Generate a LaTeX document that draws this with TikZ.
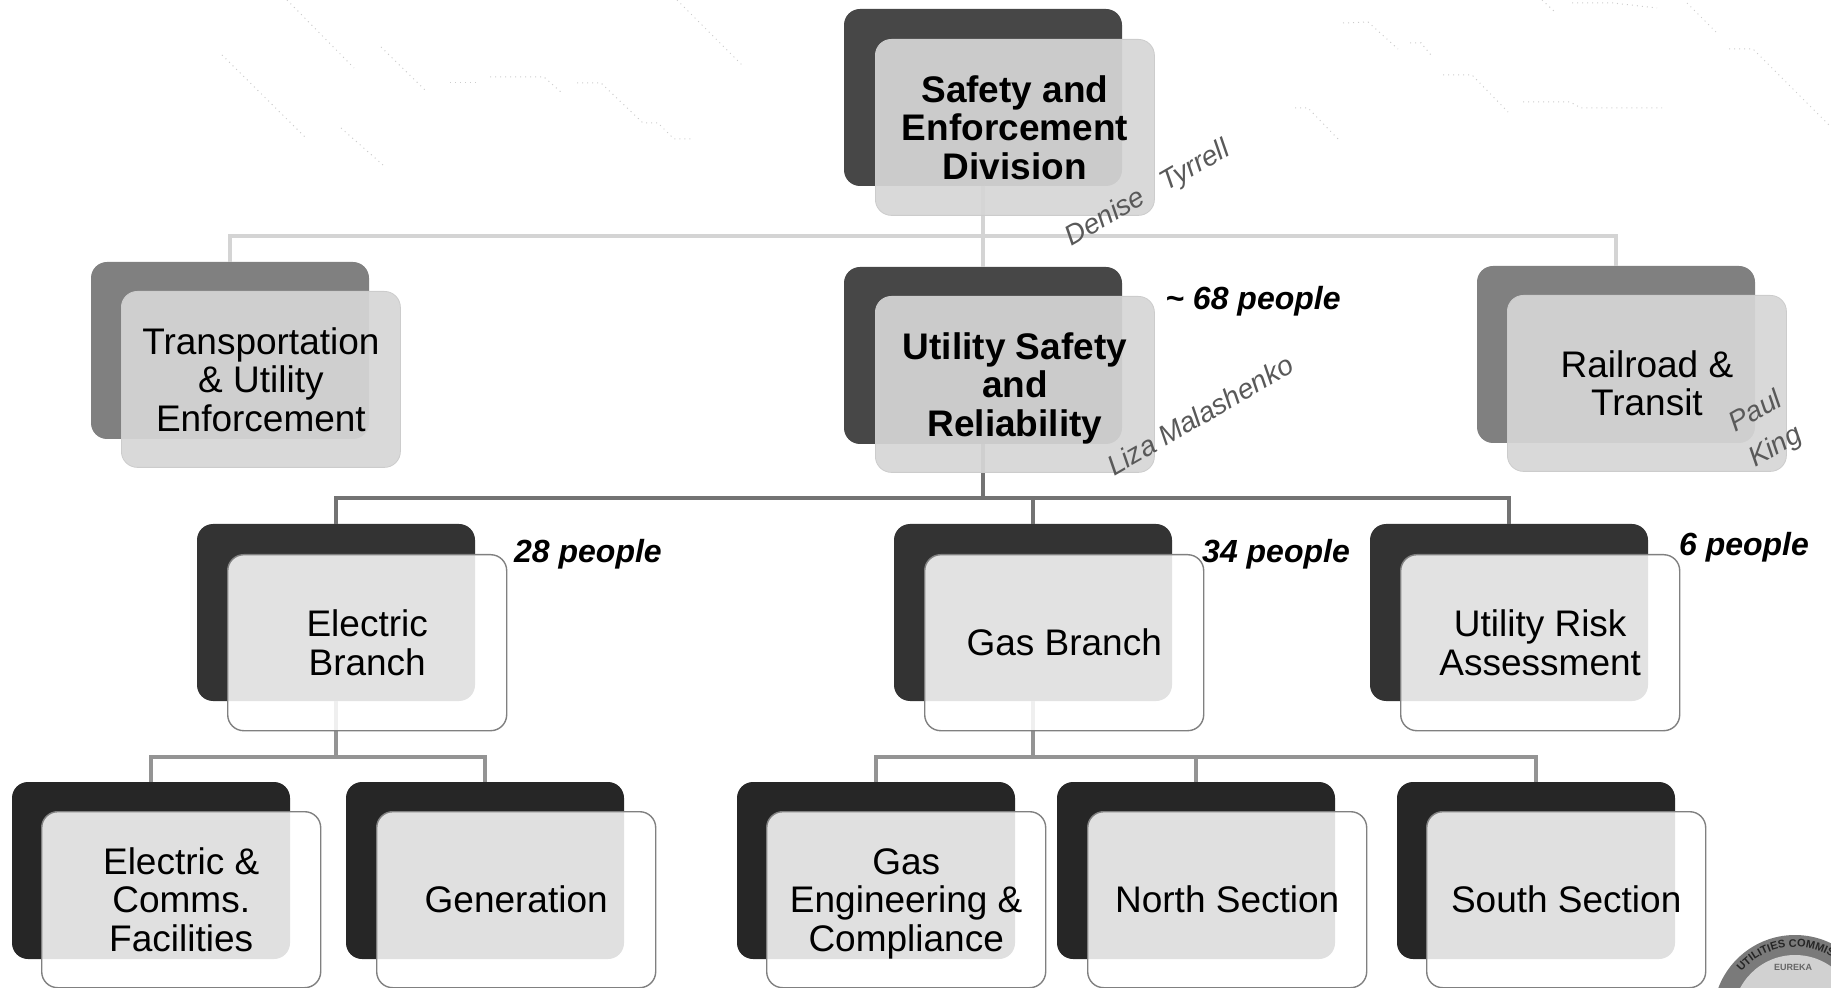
\documentclass[tikz,border=0pt]{standalone}
\usepackage{fontspec}
\setmainfont{Liberation Sans}
\usetikzlibrary{decorations.text}
\tikzset{
	backbox/.style={anchor=north west, minimum width=139pt, minimum height=88.5pt, inner sep=0pt, outer sep=0pt, rounded corners=8pt, fill=#1},
	frontbox/.style={anchor=north west, minimum width=139.5pt, minimum height=88pt, inner sep=0pt, rounded corners=8pt, align=center, font=\fontsize{18.5}{19.3}\selectfont, text opacity=1},
	greybox/.style={frontbox, fill opacity=0.93, fill=black!16, draw=black!20, line width=0.4pt},
	whitebox/.style={frontbox, fill opacity=0.86, fill=white, draw=black!50, line width=0.7pt},
	linkfaint/.style={draw=black!17, line width=1.8pt},
	linkdark/.style={draw=black!55, line width=1.8pt},
	linkmid/.style={draw=black!42, line width=1.8pt},
	countlabel/.style={font=\fontsize{16}{18}\bfseries\itshape\selectfont, inner sep=0pt},
	namelabel/.style={font=\fontsize{14}{20}\itshape\selectfont, text=black!65, rotate=30, align=center, inner sep=0pt},
	trace/.style={draw=black!20, line width=0.5pt, dotted}
}
\begin{document}
\begin{tikzpicture}[x=0.5pt, y=-0.5pt]
	\useasboundingbox (0,0) rectangle (1831,988);

	% faint specks behind the chart
	\draw [trace] (222,55) -- (306,138);
	\draw [trace] (287,0) -- (354,68);
	\draw [trace] (381,47) -- (425,90);
	\draw [trace] (341,128) -- (383,165);
	\draw [trace] (450,83) -- (478,83);
	\draw [trace] (490,77) -- (544,77) -- (562,93);
	\draw [trace] (577,83) -- (601,83) -- (643,123) -- (658,123) -- (674,139) -- (693,139);
	\draw [trace] (677,0) -- (742,65);
	\draw [trace] (1343,23) -- (1368,22) -- (1398,49);
	\draw [trace] (1410,43) -- (1421,43) -- (1431,55);
	\draw [trace] (1443,75) -- (1472,75) -- (1508,112);
	\draw [trace] (1523,102) -- (1570,102) -- (1581,108) -- (1662,108);
	\draw [trace] (1295,108) -- (1308,108) -- (1339,140);
	\draw [trace] (1542,0) -- (1556,13);
	\draw [trace] (1572,3) -- (1613,3) -- (1657,8);
	\draw [trace] (1687,3) -- (1716,32);
	\draw [trace] (1729,49) -- (1753,49) -- (1830,126);

	% seal, cut off by the corner
	\begin{scope}
		\clip (0,0) rectangle (1831,988);
		\node (sealring) [circle, minimum size=82pt, inner sep=0pt, fill=black!52] at (1795,1017) {};
		\node (sealface) [circle, minimum size=62pt, inner sep=0pt, fill=black!18] at (1795,1017) {};
		\path [decorate, decoration={text along path, text align=left, text={|\fontsize{5.5}{6}\bfseries\selectfont\color{black!85}|UTILITIES COMMISSION}}]
			(1795,1017) ++(140:35pt) arc[start angle=140, end angle=20, radius=35pt];
		\node (sealword) [font=\fontsize{4.5}{5}\bfseries\selectfont, text=black!60, inner sep=0pt] at (1793,967) {EUREKA};
	\end{scope}

	% back boxes
	\node (safetyback) [backbox=black!72] at (844,9) {};
	\node (transportback) [backbox=black!50] at (91,262) {};
	\node (utilityback) [backbox=black!72] at (844,267) {};
	\node (railback) [backbox=black!50] at (1477,266) {};
	\node (electricback) [backbox=black!80] at (197,524) {};
	\node (gasback) [backbox=black!80] at (894,524) {};
	\node (riskback) [backbox=black!80] at (1370,524) {};
	\node (commsback) [backbox=black!85] at (12,782) {};
	\node (genback) [backbox=black!85] at (346,782) {};
	\node (engback) [backbox=black!85] at (737,782) {};
	\node (northback) [backbox=black!85] at (1057,782) {};
	\node (southback) [backbox=black!85] at (1397,782) {};

	% connectors
	\coordinate (topbus) at (983,236);
	\coordinate (midbus) at (983,498);
	\coordinate (elbus) at (336,757);
	\coordinate (gasbus) at (1033,757);
	\draw [linkfaint] (safetyback.south) -- (utilityback.north);
	\draw [linkfaint] (topbus) -| (transportback.north);
	\draw [linkfaint] (topbus) -| (railback.north);
	\draw [linkdark] (utilityback.south) -- (midbus);
	\draw [linkdark] (midbus) -| (electricback.north);
	\draw [linkdark] (midbus) -| (gasback.north);
	\draw [linkdark] (midbus) -| (riskback.north);
	\draw [linkmid] (electricback.south) -- (elbus);
	\draw [linkmid] (elbus) -| (commsback.north);
	\draw [linkmid] (elbus) -| (genback.north);
	\draw [linkmid] (gasback.south) -- (gasbus);
	\draw [linkmid] (gasbus) -| (engback.north);
	\draw [linkmid] (gasbus) -| (northback.north);
	\draw [linkmid] (gasbus) -| (southback.north);

	% front boxes
	\node (safety) [greybox] at (875,39) {\bfseries Safety and\\\bfseries Enforcement\\\bfseries Division};
	\node (transport) [greybox] at (121,291) {Transportation\\\& Utility\\Enforcement};
	\node (utility) [greybox] at (875,296) {\bfseries Utility Safety\\\bfseries and\\\smash{\bfseries Reliability}};
	\node (rail) [greybox] at (1507,295) {Railroad \&\\Transit};
	\node (electric) [whitebox] at (227,554) {Electric\\Branch};
	\node (gas) [whitebox] at (924,554) {Gas Branch};
	\node (risk) [whitebox] at (1400,554) {Utility Risk\\Assessment};
	\node (comms) [whitebox] at (41,811) {Electric \&\\Comms.\\Facilities};
	\node (gen) [whitebox] at (376,811) {Generation};
	\node (eng) [whitebox] at (766,811) {Gas\\Engineering \&\\\smash{Compliance}};
	\node (north) [whitebox] at (1087,811) {North Section};
	\node (south) [whitebox] at (1426,811) {South Section};

	% head counts and names
	\node (countall) [countlabel] at (1253,301) {\textasciitilde\ 68 people};
	\node (countel) [countlabel] at (588,554) {28 people};
	\node (countgas) [countlabel] at (1276,554) {34 people};
	\node (countrisk) [countlabel] at (1744,547) {6 people};
	\node (namedt) [namelabel] at (1148,194) {Denise\hspace{11pt}Tyrrell};
	\node (namelm) [namelabel] at (1200,415) {Liza Malashenko};
	\node (namepk) [namelabel] at (1766,430) {Paul\\King};
\end{tikzpicture}
\end{document}
